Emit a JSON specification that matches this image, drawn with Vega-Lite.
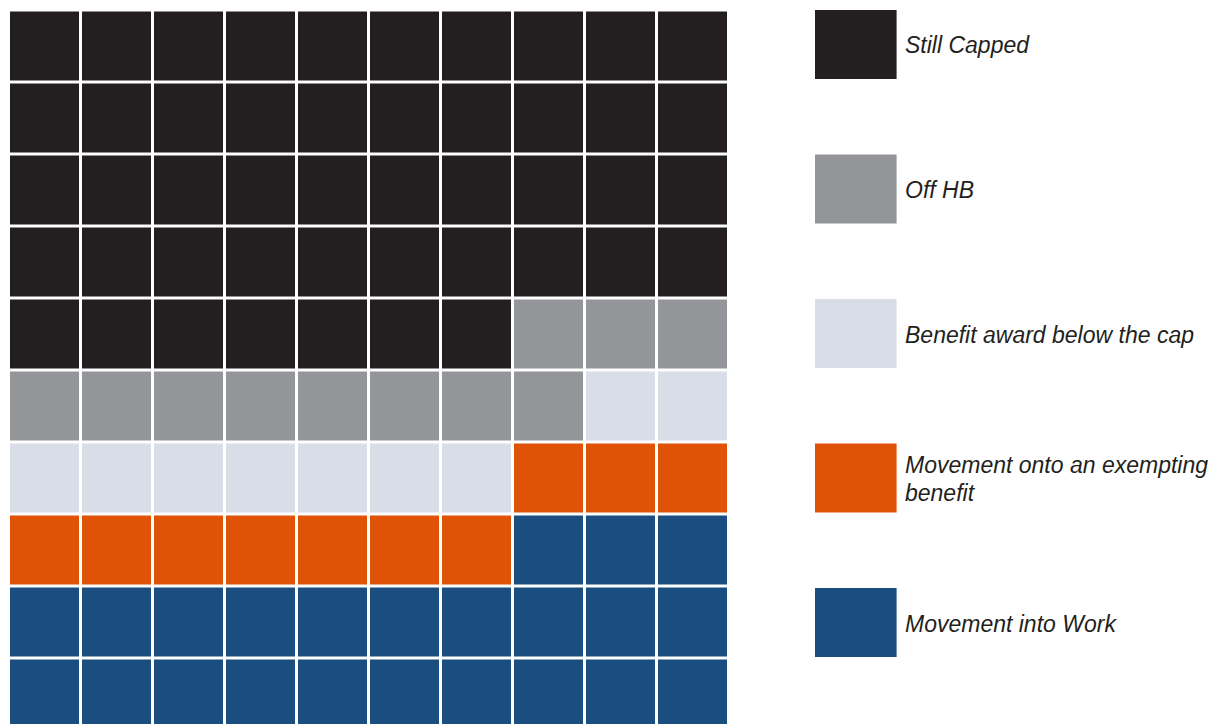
{
  "$schema": "https://vega.github.io/schema/vega-lite/v6.json",
  "padding": {"left": 10, "top": 10, "right": 0, "bottom": 0},
  "background": "white",
  "spacing": 88,
  "config": {"view": {"stroke": null}},
  "datasets": {
    "cells": [
      {"row":1,"col":1,"category":"Still Capped"},{"row":1,"col":2,"category":"Still Capped"},{"row":1,"col":3,"category":"Still Capped"},{"row":1,"col":4,"category":"Still Capped"},{"row":1,"col":5,"category":"Still Capped"},{"row":1,"col":6,"category":"Still Capped"},{"row":1,"col":7,"category":"Still Capped"},{"row":1,"col":8,"category":"Still Capped"},{"row":1,"col":9,"category":"Still Capped"},{"row":1,"col":10,"category":"Still Capped"},
      {"row":2,"col":1,"category":"Still Capped"},{"row":2,"col":2,"category":"Still Capped"},{"row":2,"col":3,"category":"Still Capped"},{"row":2,"col":4,"category":"Still Capped"},{"row":2,"col":5,"category":"Still Capped"},{"row":2,"col":6,"category":"Still Capped"},{"row":2,"col":7,"category":"Still Capped"},{"row":2,"col":8,"category":"Still Capped"},{"row":2,"col":9,"category":"Still Capped"},{"row":2,"col":10,"category":"Still Capped"},
      {"row":3,"col":1,"category":"Still Capped"},{"row":3,"col":2,"category":"Still Capped"},{"row":3,"col":3,"category":"Still Capped"},{"row":3,"col":4,"category":"Still Capped"},{"row":3,"col":5,"category":"Still Capped"},{"row":3,"col":6,"category":"Still Capped"},{"row":3,"col":7,"category":"Still Capped"},{"row":3,"col":8,"category":"Still Capped"},{"row":3,"col":9,"category":"Still Capped"},{"row":3,"col":10,"category":"Still Capped"},
      {"row":4,"col":1,"category":"Still Capped"},{"row":4,"col":2,"category":"Still Capped"},{"row":4,"col":3,"category":"Still Capped"},{"row":4,"col":4,"category":"Still Capped"},{"row":4,"col":5,"category":"Still Capped"},{"row":4,"col":6,"category":"Still Capped"},{"row":4,"col":7,"category":"Still Capped"},{"row":4,"col":8,"category":"Still Capped"},{"row":4,"col":9,"category":"Still Capped"},{"row":4,"col":10,"category":"Still Capped"},
      {"row":5,"col":1,"category":"Still Capped"},{"row":5,"col":2,"category":"Still Capped"},{"row":5,"col":3,"category":"Still Capped"},{"row":5,"col":4,"category":"Still Capped"},{"row":5,"col":5,"category":"Still Capped"},{"row":5,"col":6,"category":"Still Capped"},{"row":5,"col":7,"category":"Still Capped"},{"row":5,"col":8,"category":"Off HB"},{"row":5,"col":9,"category":"Off HB"},{"row":5,"col":10,"category":"Off HB"},
      {"row":6,"col":1,"category":"Off HB"},{"row":6,"col":2,"category":"Off HB"},{"row":6,"col":3,"category":"Off HB"},{"row":6,"col":4,"category":"Off HB"},{"row":6,"col":5,"category":"Off HB"},{"row":6,"col":6,"category":"Off HB"},{"row":6,"col":7,"category":"Off HB"},{"row":6,"col":8,"category":"Off HB"},{"row":6,"col":9,"category":"Benefit award below the cap"},{"row":6,"col":10,"category":"Benefit award below the cap"},
      {"row":7,"col":1,"category":"Benefit award below the cap"},{"row":7,"col":2,"category":"Benefit award below the cap"},{"row":7,"col":3,"category":"Benefit award below the cap"},{"row":7,"col":4,"category":"Benefit award below the cap"},{"row":7,"col":5,"category":"Benefit award below the cap"},{"row":7,"col":6,"category":"Benefit award below the cap"},{"row":7,"col":7,"category":"Benefit award below the cap"},{"row":7,"col":8,"category":"Movement onto an exempting benefit"},{"row":7,"col":9,"category":"Movement onto an exempting benefit"},{"row":7,"col":10,"category":"Movement onto an exempting benefit"},
      {"row":8,"col":1,"category":"Movement onto an exempting benefit"},{"row":8,"col":2,"category":"Movement onto an exempting benefit"},{"row":8,"col":3,"category":"Movement onto an exempting benefit"},{"row":8,"col":4,"category":"Movement onto an exempting benefit"},{"row":8,"col":5,"category":"Movement onto an exempting benefit"},{"row":8,"col":6,"category":"Movement onto an exempting benefit"},{"row":8,"col":7,"category":"Movement onto an exempting benefit"},{"row":8,"col":8,"category":"Movement into Work"},{"row":8,"col":9,"category":"Movement into Work"},{"row":8,"col":10,"category":"Movement into Work"},
      {"row":9,"col":1,"category":"Movement into Work"},{"row":9,"col":2,"category":"Movement into Work"},{"row":9,"col":3,"category":"Movement into Work"},{"row":9,"col":4,"category":"Movement into Work"},{"row":9,"col":5,"category":"Movement into Work"},{"row":9,"col":6,"category":"Movement into Work"},{"row":9,"col":7,"category":"Movement into Work"},{"row":9,"col":8,"category":"Movement into Work"},{"row":9,"col":9,"category":"Movement into Work"},{"row":9,"col":10,"category":"Movement into Work"},
      {"row":10,"col":1,"category":"Movement into Work"},{"row":10,"col":2,"category":"Movement into Work"},{"row":10,"col":3,"category":"Movement into Work"},{"row":10,"col":4,"category":"Movement into Work"},{"row":10,"col":5,"category":"Movement into Work"},{"row":10,"col":6,"category":"Movement into Work"},{"row":10,"col":7,"category":"Movement into Work"},{"row":10,"col":8,"category":"Movement into Work"},{"row":10,"col":9,"category":"Movement into Work"},{"row":10,"col":10,"category":"Movement into Work"}
    ],
    "legend": [
      {"category":"Still Capped","label":"Still Capped"},
      {"category":"Off HB","label":"Off HB"},
      {"category":"Benefit award below the cap","label":"Benefit award below the cap"},
      {"category":"Movement onto an exempting benefit","label":"Movement onto an exempting|benefit"},
      {"category":"Movement into Work","label":"Movement into Work"}
    ]
  },
  "hconcat": [
    {
      "width": 717,
      "height": 720,
      "data": {"name": "cells"},
      "mark": {"type": "rect"},
      "encoding": {
        "x": {"field": "col", "type": "ordinal", "axis": null, "scale": {"paddingInner": 0.0417, "paddingOuter": 0}},
        "y": {"field": "row", "type": "ordinal", "axis": null, "scale": {"paddingInner": 0.0417, "paddingOuter": 0.0208}},
        "color": {
          "field": "category", "type": "nominal", "legend": null,
          "scale": {
            "domain": ["Still Capped", "Off HB", "Benefit award below the cap", "Movement onto an exempting benefit", "Movement into Work"],
            "range": ["#231f20", "#939598", "#d9dde8", "#e05206", "#1a4e80"]
          }
        }
      }
    },
    {
      "width": 400,
      "height": 647,
      "data": {"name": "legend"},
      "encoding": {
        "y": {"field": "category", "type": "nominal", "sort": null, "axis": null, "scale": {"paddingInner": 0.5225, "paddingOuter": 0}}
      },
      "layer": [
        {
          "mark": {"type": "rect"},
          "encoding": {
            "x": {"datum": 0, "type": "quantitative", "axis": null, "scale": {"domain": [0, 1], "nice": false}},
            "x2": {"datum": 0.204},
            "color": {
              "field": "category", "type": "nominal", "legend": null,
              "scale": {
                "domain": ["Still Capped", "Off HB", "Benefit award below the cap", "Movement onto an exempting benefit", "Movement into Work"],
                "range": ["#231f20", "#939598", "#d9dde8", "#e05206", "#1a4e80"]
              }
            }
          }
        },
        {
          "transform": [{"filter": "indexof(datum.label, '|') < 0"}],
          "mark": {"type": "text", "align": "left", "baseline": "middle", "dy": 2, "font": "Liberation Sans", "fontStyle": "italic", "fontSize": 23, "color": "#231f20"},
          "encoding": {
            "x": {"datum": 0.225, "type": "quantitative"},
            "text": {"field": "label", "type": "nominal"}
          }
        },
        {
          "transform": [{"filter": "indexof(datum.label, '|') >= 0"}],
          "mark": {"type": "text", "align": "left", "baseline": "middle", "dy": -12, "font": "Liberation Sans", "fontStyle": "italic", "fontSize": 23, "lineBreak": "|", "lineHeight": 28, "color": "#231f20"},
          "encoding": {
            "x": {"datum": 0.225, "type": "quantitative"},
            "text": {"field": "label", "type": "nominal"}
          }
        }
      ]
    }
  ]
}
